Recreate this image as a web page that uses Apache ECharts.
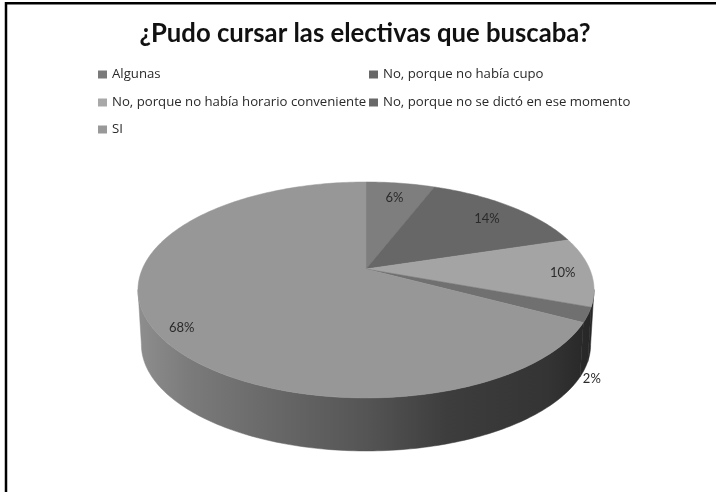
<!DOCTYPE html>
<html><head><meta charset="utf-8">
<style>html,body{margin:0;padding:0;background:#fff}#c{width:716px;height:492px}</style>
<script src="https://cdn.jsdelivr.net/npm/echarts@6/dist/echarts.min.js"></script>
</head><body><div id="c"></div>
<script>
const categories = ['Algunas','No, porque no había cupo','No, porque no había horario conveniente','No, porque no se dictó en ese momento','SI'];
const values = [5.9,14.4,10.4,2.2,67.5];
const percentLabels = ['6%','14%','10%','2%','68%'];
const colors = ['#7e7e7e','#676767','#a4a4a4','#707070','#979797'];
const legendColors = ['#7a7a7a','#686868','#a8a8a8','#686868','#999999'];

const total = values.reduce((a,b)=>a+b,0);
const CX=366, CY=269, A=223.7, B=103.9, K=0.194, DEPTH=55, BOTTOM_SCALE=0.985;
function pt(deg,f,drop,scale){
  const t=deg*Math.PI/180, u=Math.sin(t)*f, v=Math.cos(t)*f, w=1+K*v, s=scale||1;
  return [CX+s*A*u/w, CY-s*B*v/w+(drop||0)];
}
function arc(a0,a1,drop,scale){
  const r=[], n=Math.max(2,Math.ceil(Math.abs(a1-a0)));
  for(let i=0;i<=n;i++) r.push(pt(a0+(a1-a0)*i/n,1,drop,scale));
  return r;
}
const WALL_FROM=101, WALL_TO=259;
const wallGrad=new echarts.graphic.LinearGradient(137,0,593,0,[
  {offset:0,color:'#8e8e8e'},{offset:.12,color:'#7a7a7a'},{offset:.3,color:'#686868'},
  {offset:.5,color:'#555555'},{offset:.68,color:'#3d3d3d'},{offset:.9,color:'#343434'},{offset:1,color:'#262626'}],true);
const labelPlace=[[.80,0,0],[.82,0,2],[.88,-1,2],[1,4,64],[.95,17,3]];

const series=categories.map((name,i)=>{
  const start=values.slice(0,i).reduce((a,b)=>a+b,0)/total*360;
  const end=start+values[i]/total*360;
  return {
    name,type:'custom',coordinateSystem:'none',animation:false,silent:true,
    itemStyle:{color:legendColors[i]},
    data:[values[i]],
    renderItem(){
      const ch=[];
      const a0=Math.max(start,WALL_FROM), a1=Math.min(end,WALL_TO);
      if(a1>a0){
        const top=arc(a0,a1), bot=arc(a1,a0,DEPTH,BOTTOM_SCALE);
        ch.push({type:'polygon',z2:1,shape:{points:top.concat(bot)},style:{fill:wallGrad,stroke:wallGrad,lineWidth:.5}});
      }
      ch.push({type:'polygon',z2:2+i,shape:{points:[[CX,CY]].concat(arc(start,end))},style:{fill:colors[i],stroke:colors[i],lineWidth:.5}});
      const p=labelPlace[i], m=pt((start+end)/2,p[0]);
      ch.push({type:'text',z2:20,style:{text:percentLabels[i],x:m[0]+p[1],y:m[1]+p[2],align:'center',verticalAlign:'middle',
        font:'13px Lato',fill:'#2a2a2a'}});
      return {type:'group',children:ch};
    }
  };
});
const legendPos=[[98,68],[369,68],[98,96],[369,96],[98,123]];
const chart=echarts.init(document.getElementById('c'),null,{renderer:'canvas'});
chart.setOption({
  animation:false,backgroundColor:'#fff',
  title:{text:'¿Pudo cursar las electivas que buscaba?',left:360,textAlign:'center',top:16,
    textStyle:{fontFamily:'Lato',fontWeight:'bold',fontSize:25.7,color:'#111'}},
  legend:categories.map((name,i)=>({data:[name],left:legendPos[i][0],top:legendPos[i][1],padding:0,icon:'rect',
    itemWidth:9,itemHeight:8,itemGap:5,selectedMode:false,
    textStyle:{fontFamily:'Open Sans',fontSize:13.2,color:'#2a2a2a',padding:[0,0,0,0]}})),
  graphic:[{type:'rect',silent:true,z:100,shape:{x:6,y:3.2,width:800,height:600},style:{fill:'none',stroke:'#000',lineWidth:2.5}}],
  series
});
</script></body></html>
